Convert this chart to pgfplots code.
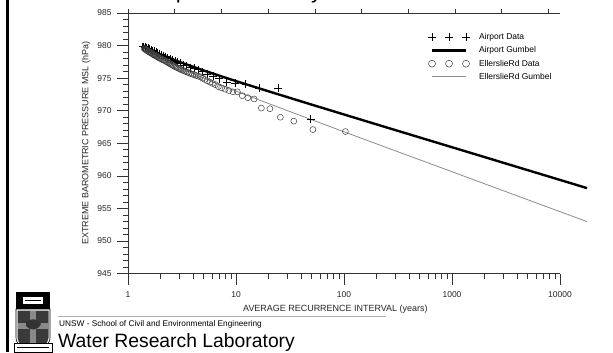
\documentclass[border=0pt]{standalone}
\usepackage{fontspec}
\setmainfont{Liberation Sans}
\usepackage{pgfplots}
\pgfplotsset{compat=1.18}
\definecolor{gline}{HTML}{8C8C8C}
\definecolor{circ}{HTML}{404040}
\definecolor{shield}{HTML}{3A3A3A}
\definecolor{crossg}{HTML}{8A8A8A}
\begin{document}
\begin{tikzpicture}[x=1bp,y=1bp]
\useasboundingbox (0,0) rectangle (613,-352);
\fill[white] (0,0) rectangle (613,-352);
% clipped title (only its descenders show, as in the reference)
\node[anchor=base west, inner sep=0, font=\fontsize{22}{24}\selectfont] at (88,2) {Extreme pressure Analysis};
% left border
\fill[black] (6,0) rectangle (8.5,-352);
% logo (simplified)
\fill[black] (16,-292) rectangle (50,-309);
\fill[white] (23,-297) rectangle (43,-304);
\draw[black,line width=0.4] (25,-300.5) -- (41,-300.5);
\draw[black,line width=0.6] (16,-309) -- (50,-309) -- (50,-338) .. controls (50,-346) and (40,-348) .. (33,-352) .. controls (26,-348) and (16,-346) .. (16,-338) -- cycle;
\fill[shield] (17.5,-310.5) -- (48.5,-310.5) -- (48.5,-338) .. controls (48.5,-345) and (40,-347) .. (33,-350.5) .. controls (26,-347) and (17.5,-345) .. (17.5,-338) -- cycle;
\fill[crossg] (30,-310.5) rectangle (36,-348);
\fill[crossg] (17.5,-323) rectangle (48.5,-329);
\fill[black!80] (26,-322) .. controls (30,-318) and (38,-318) .. (41,-324) .. controls (38,-331) and (30,-331) .. (26,-326) -- cycle;
\fill[white] (14,-343) rectangle (52,-352);
\draw[black,line width=0.5] (14,-343) rectangle (52,-352);
\draw[black,line width=0.3] (17,-347.5) -- (49,-347.5);
% footer text
\draw[black!30,line width=0.6] (58,-316) -- (386,-316);
\node[anchor=base west, inner sep=0, font=\fontsize{8.3}{9}\selectfont] at (59,-326.5) {UNSW - School of Civil and Environmental Engineering};
\node[anchor=base west, inner sep=0, font=\fontsize{19.4}{21}\selectfont] at (58,-347) {Water Research Laboratory};
% top axis with evenly spaced ticks
\begin{axis}[
  at={(128bp,-273.5bp)}, anchor=south west, scale only axis,
  width=432bp, height=260.5bp,
  xmin=0, xmax=9.25, ymin=0, ymax=1,
  axis x line=top, axis y line=none,
  axis line style={-, line width=0.6bp, black!80},
  xtick={0,1,...,9}, xticklabels={},
  tick align=outside, major tick length=4bp,
  tick style={line width=0.6bp, black!80},
]
\addplot[draw=none] coordinates {(0,0)};
\end{axis}
% main axis
\begin{axis}[
  at={(128bp,-273.5bp)}, anchor=south west, scale only axis,
  width=432bp, height=260.5bp,
  xmode=log, xmin=1, xmax=10000, ymin=945, ymax=985,
  clip=false,
  axis x line*=bottom, axis y line*=left,
  axis line style={-, line width=0.6bp, black!80},
  xtick pos=bottom, ytick pos=left,
  xtick={1,10,100,1000,10000}, xticklabels={1,10,100,1000,10000},
  minor xtick={2,3,4,5,6,7,8,9,20,30,40,50,60,70,80,90,200,300,400,500,600,700,800,900,2000,3000,4000,5000,6000,7000,8000,9000},
  ytick={945,950,...,985}, minor y tick num=4,
  tick align=outside, major tick length=11bp, minor tick length=5bp,
  tick style={line width=0.6bp, black!80},
  tick label style={font=\fontsize{8.5}{9}\selectfont, text=black!85},
  xticklabel style={yshift=-4bp},
  yticklabel style={xshift=-2bp},
  /pgf/number format/assume math mode=true,
  xlabel={AVERAGE RECURRENCE INTERVAL (years)},
  ylabel={EXTREME BAROMETRIC PRESSURE MSL (hPa)},
  xlabel style={at={(axis description cs:0.48,-0.136)}, anchor=center, font=\fontsize{9}{10}\selectfont, text=black!85},
  ylabel style={at={(axis description cs:-0.097,0.5)}, anchor=center, font=\fontsize{9}{10}\selectfont, text=black!85},
  legend style={draw=none, fill=none, at={(axis description cs:0.694,0.93)}, anchor=north west,
    font=\fontsize{8.5}{10}\selectfont, inner sep=0pt, row sep=1.6bp,
    /tikz/every odd column/.append style={column sep=7bp}},
  legend cell align=left,
]
\addplot[only marks, mark=+, mark size=4bp, black, mark options={line width=0.6bp},
  legend image code/.code={\draw[black, line width=0.6bp] plot[mark=+, mark size=4bp, only marks] coordinates {(0bp,0bp) (17bp,0bp) (34bp,0bp)};}]
  coordinates {
(49.0,968.7) (24.5,973.45) (16.33,973.45) (12.25,974.05) (9.8,974.2) (8.17,974.35)
(7.0,974.9) (6.125,975.3) (5.44,975.6) (4.9,976.0) (4.45,976.3) (4.08,976.5)
(3.77,976.6) (3.5,976.9) (3.27,977.0) (3.06,977.3) (2.88,977.5) (2.72,977.6)
(2.58,977.8) (2.45,978.0) (2.33,978.1) (2.23,978.3) (2.13,978.4) (2.04,978.6)
(1.96,978.7) (1.88,978.8) (1.81,979.0) (1.75,979.1) (1.69,979.2) (1.63,979.3)
(1.58,979.5) (1.53,979.6) (1.48,979.7) (1.44,979.8) (1.40,979.85) (1.37,979.85)
};
\addlegendentry{Airport Data}
\addplot[black, line width=2.4bp,
  legend image code/.code={\draw[black, line width=2.4bp] (0bp,0bp) -- (34bp,0bp);}]
  coordinates {
(1.39,979.97) (2,978.65) (3,977.48) (5,976.18) (10,974.54) (20,972.98) (50,970.94)
(100,969.42) (200,967.90) (500,965.90) (1000,964.39) (2000,962.88) (5000,960.88)
(10000,959.37) (17800,958.11)
};
\addlegendentry{Airport Gumbel}
\addplot[only marks, mark=o, mark size=3bp, circ, mark options={line width=0.5bp},
  legend image code/.code={\draw[circ, line width=0.6bp] plot[mark=o, mark size=3.5bp, only marks] coordinates {(0bp,0bp) (17bp,0bp) (34bp,0bp)};}]
  coordinates {
(103,966.8) (51.5,967.1) (34.3,968.4) (25.75,969.0) (20.6,970.3) (17.17,970.4)
(14.71,971.8) (12.88,972.0) (11.44,972.3) (10.3,972.9) (9.36,972.9) (8.58,973.1)
(7.92,973.3) (7.36,973.5) (6.87,973.7) (6.44,974.0) (6.06,974.2) (5.72,974.4)
(5.42,974.6) (5.15,974.8) (4.90,975.0) (4.68,975.2) (4.48,975.3) (4.29,975.4)
(4.12,975.5) (3.96,975.6) (3.81,975.7) (3.68,975.8) (3.55,975.9) (3.43,976.0)
(3.32,976.1) (3.22,976.2) (3.12,976.3) (3.03,976.4) (2.94,976.5) (2.86,976.6)
(2.78,976.7) (2.71,976.8) (2.64,976.9) (2.575,977.0) (2.51,977.1) (2.45,977.2)
(2.40,977.3) (2.34,977.4) (2.29,977.5) (2.24,977.6) (2.19,977.7) (2.15,977.75)
(2.10,977.8) (2.06,977.9) (2.02,978.0) (1.98,978.05) (1.94,978.1) (1.91,978.2)
(1.87,978.3) (1.84,978.35) (1.81,978.4) (1.78,978.5) (1.75,978.55) (1.72,978.6)
(1.69,978.7) (1.66,978.8) (1.64,978.85) (1.61,978.9) (1.585,979.0) (1.56,979.05)
(1.54,979.1) (1.51,979.2) (1.49,979.3) (1.47,979.35) (1.45,979.4) (1.43,979.5)
(1.41,979.55)
};
\addlegendentry{EllerslieRd Data}
\addplot[gline, line width=0.8bp,
  legend image code/.code={\draw[gline, line width=0.8bp] (0bp,0bp) -- (34bp,0bp);}]
  coordinates {
(1.39,979.64) (2,978.03) (3,976.60) (5,975.01) (10,973.01) (20,971.10) (50,968.62)
(100,966.76) (200,964.91) (500,962.47) (1000,960.63) (2000,958.78) (5000,956.34)
(10000,954.50) (17800,952.97)
};
\addlegendentry{EllerslieRd Gumbel}
\end{axis}
\end{tikzpicture}
\end{document}
